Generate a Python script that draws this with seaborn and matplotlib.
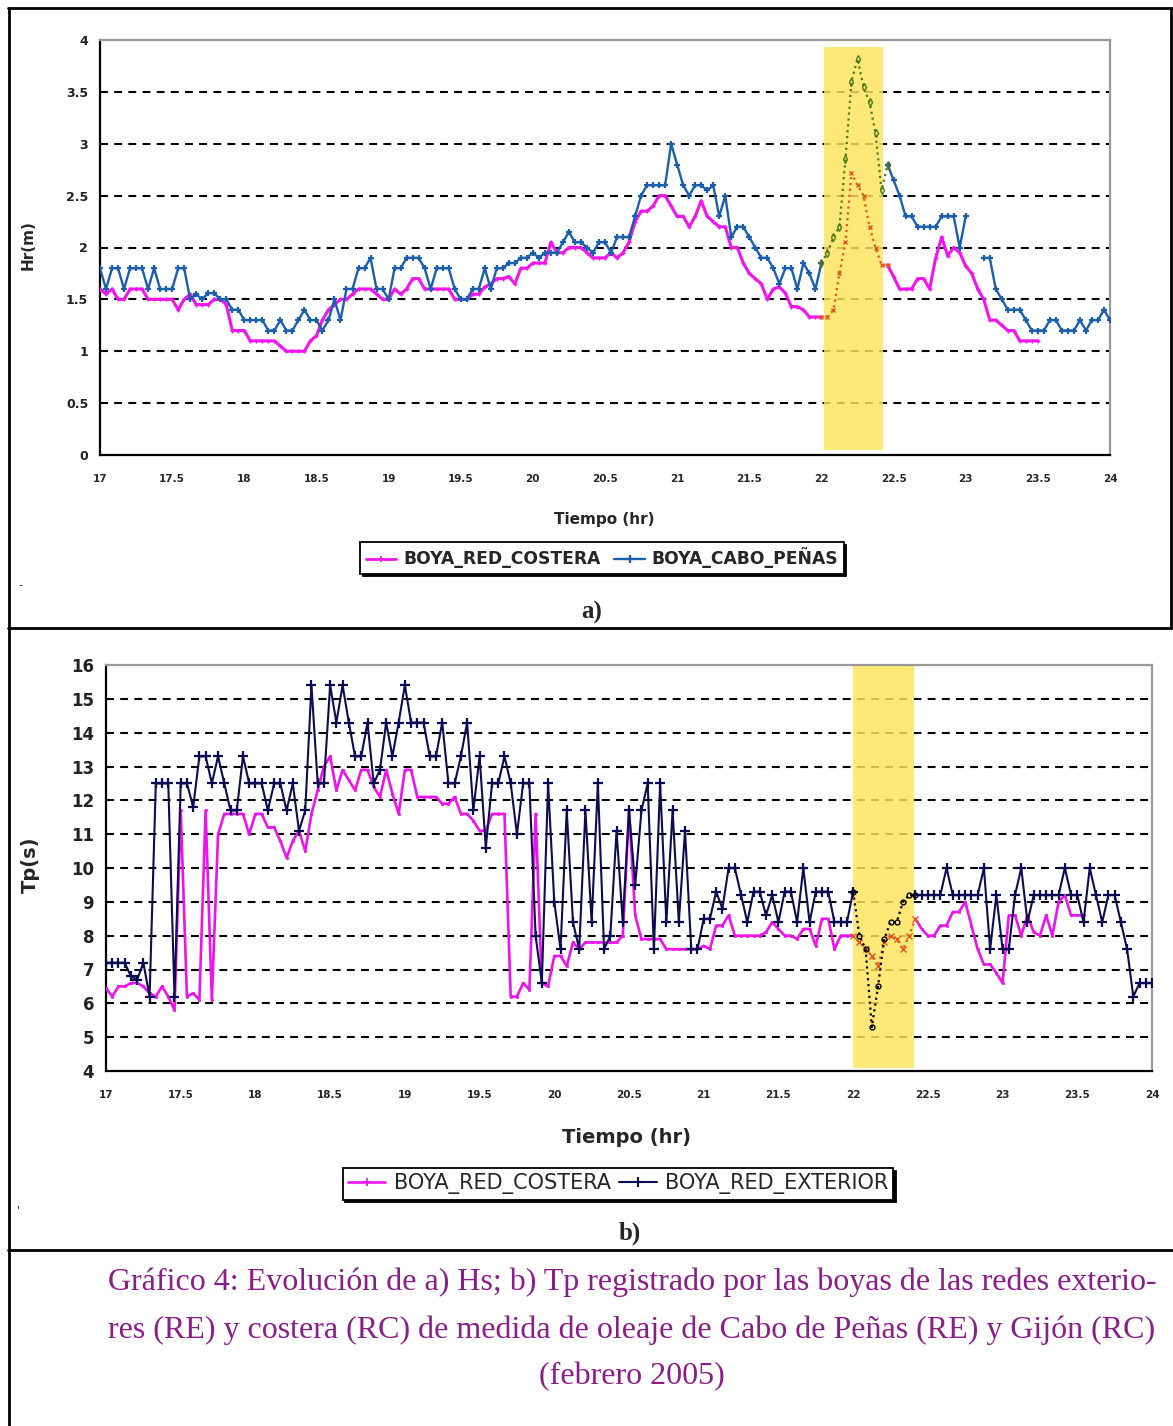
import numpy as np
import pandas as pd
import matplotlib
matplotlib.use("Agg")
import matplotlib.pyplot as plt
import seaborn as sns
from matplotlib.lines import Line2D

nan = np.nan

# ---------------- DATA ----------------
# hourly samples from day 17 to day 24 (169 values)
hours = 17 + np.arange(169) / 24.0

hs_ticks = [0, 0.5, 1, 1.5, 2, 2.5, 3, 3.5, 4]
hs_tick_labels = ["0", "0.5", "1", "1.5", "2", "2.5", "3", "3.5", "4"]
tp_ticks = [4, 5, 6, 7, 8, 9, 10, 11, 12, 13, 14, 15, 16]
tp_tick_labels = [str(t) for t in tp_ticks]
x_ticks = [17, 17.5, 18, 18.5, 19, 19.5, 20, 20.5, 21, 21.5, 22, 22.5, 23, 23.5, 24]
x_tick_labels = ["17", "17.5", "18", "18.5", "19", "19.5", "20", "20.5", "21",
                 "21.5", "22", "22.5", "23", "23.5", "24"]

# a) Hs (m)
hs_costera = [
    1.6, 1.55, 1.6, 1.5, 1.5, 1.6, 1.6, 1.6, 1.5, 1.5, 1.5, 1.5, 1.5, 1.4, 1.5, 1.55, 1.45, 1.45, 1.45, 1.5, 1.5, 1.45, 1.2, 1.2,
    1.2, 1.1, 1.1, 1.1, 1.1, 1.1, 1.05, 1.0, 1.0, 1.0, 1.0, 1.1, 1.15, 1.3, 1.4, 1.45, 1.5, 1.5, 1.55, 1.6, 1.6, 1.6, 1.55, 1.5,
    1.5, 1.6, 1.55, 1.6, 1.7, 1.7, 1.6, 1.6, 1.6, 1.6, 1.6, 1.5, 1.5, 1.5, 1.55, 1.55, 1.62, 1.65, 1.7, 1.7, 1.72, 1.65, 1.8, 1.8,
    1.85, 1.85, 1.85, 2.05, 1.95, 1.95, 2.0, 2.0, 2.0, 1.95, 1.9, 1.9, 1.9, 1.95, 1.9, 1.95, 2.05, 2.25, 2.35, 2.35, 2.4, 2.5, 2.5, 2.4,
    2.3, 2.3, 2.2, 2.3, 2.45, 2.3, 2.25, 2.2, 2.2, 2.0, 2.0, 1.85, 1.75, 1.7, 1.65, 1.5, 1.6, 1.62, 1.56, 1.43, 1.43, 1.4, 1.33, 1.33,
    1.33, 1.33, 1.4, 1.75, 2.05, 2.72, 2.6, 2.5, 2.2, 2.0, 1.83, 1.83, 1.72, 1.6, 1.6, 1.6, 1.7, 1.7, 1.6, 1.9, 2.1, 1.92, 2.0, 1.95,
    1.82, 1.75, 1.6, 1.5, 1.3, 1.3, 1.25, 1.2, 1.2, 1.1, 1.1, 1.1, 1.1,
    nan, nan, nan, nan, nan, nan, nan, nan, nan, nan, nan, nan]
hs_cabo_penas = [
    1.8, 1.6, 1.8, 1.8, 1.6, 1.8, 1.8, 1.8, 1.6, 1.8, 1.6, 1.6, 1.6, 1.8, 1.8, 1.5, 1.55, 1.5, 1.56, 1.56, 1.5, 1.5, 1.4, 1.4,
    1.3, 1.3, 1.3, 1.3, 1.2, 1.2, 1.3, 1.2, 1.2, 1.3, 1.4, 1.3, 1.3, 1.2, 1.3, 1.5, 1.3, 1.6, 1.6, 1.8, 1.8, 1.9, 1.6, 1.6,
    1.5, 1.8, 1.8, 1.9, 1.9, 1.9, 1.8, 1.6, 1.8, 1.8, 1.8, 1.6, 1.5, 1.5, 1.6, 1.6, 1.8, 1.6, 1.8, 1.8, 1.85, 1.85, 1.9, 1.9,
    1.95, 1.9, 1.95, 1.95, 1.95, 2.05, 2.15, 2.05, 2.05, 2.0, 1.95, 2.05, 2.05, 1.95, 2.1, 2.1, 2.1, 2.3, 2.5, 2.6, 2.6, 2.6, 2.6, 3.0,
    2.8, 2.6, 2.5, 2.6, 2.6, 2.55, 2.6, 2.3, 2.5, 2.1, 2.2, 2.2, 2.1, 2.0, 1.9, 1.9, 1.8, 1.65, 1.8, 1.8, 1.6, 1.85, 1.75, 1.6,
    1.85, 1.95, 2.1, 2.2, 2.85, 3.6, 3.82, 3.55, 3.4, 3.1, 2.55, 2.8, 2.65, 2.5, 2.3, 2.3, 2.2, 2.2, 2.2, 2.2, 2.3, 2.3, 2.3, 2.0,
    2.3, nan, nan, 1.9, 1.9, 1.6, 1.5, 1.4, 1.4, 1.4, 1.3, 1.2, 1.2, 1.2, 1.3, 1.3, 1.2, 1.2, 1.2, 1.3, 1.2, 1.3, 1.3, 1.4, 1.3]

# b) Tp (s)
tp_costera = [
    6.45, 6.2, 6.5, 6.5, 6.6, 6.6, 6.5, 6.3, 6.2, 6.5, 6.2, 5.8, 11.7, 6.2, 6.3, 6.1, 11.7, 6.1, 11.0, 11.6, 11.6, 11.6, 11.6, 11.0,
    11.6, 11.6, 11.2, 11.2, 10.8, 10.3, 10.8, 11.1, 10.5, 11.6, 12.3, 13.0, 13.3, 12.3, 12.9, 12.6, 12.3, 12.9, 12.9, 12.4, 12.1, 12.9, 12.2, 11.6,
    12.9, 12.9, 12.1, 12.1, 12.1, 12.1, 11.9, 11.9, 12.1, 11.6, 11.6, 11.4, 11.1, 11.1, 11.6, 11.6, 11.6, 6.2, 6.2, 6.6, 6.4, 11.6, 6.6, 6.5,
    7.4, 7.4, 7.1, 7.8, 7.6, 7.8, 7.8, 7.8, 7.8, 7.8, 7.8, 8.0, 11.7, 8.6, 7.9, 7.9, 7.9, 7.9, 7.6, 7.6, 7.6, 7.6, 7.6, 7.6,
    7.7, 7.6, 8.3, 8.3, 8.6, 8.0, 8.0, 8.0, 8.0, 8.0, 8.1, 8.4, 8.2, 8.0, 8.0, 7.9, 8.2, 8.2, 7.7, 8.5, 8.5, 7.6, 8.0, 8.0,
    8.0, 7.8, 7.6, 7.4, 7.1, 7.8, 8.0, 7.9, 7.6, 8.0, 8.5, 8.2, 8.0, 8.0, 8.3, 8.3, 8.7, 8.7, 9.0, 8.3, 7.6, 7.15, 7.15, 6.9,
    6.6, 8.6, 8.6, 8.0, 8.6, 8.1, 8.0, 8.6, 8.0, 9.0, 9.2, 8.6, 8.6, 8.6,
    nan, nan, nan, nan, nan, nan, nan, nan, nan, nan, nan]
tp_exterior = [
    7.2, 7.2, 7.2, 7.2, 6.8, 6.7, 7.2, 6.2, 12.5, 12.5, 12.5, 6.2, 12.5, 12.5, 11.8, 13.3, 13.3, 12.5, 13.3, 12.5, 11.7, 11.7, 13.3, 12.5,
    12.5, 12.5, 11.7, 12.5, 12.5, 11.7, 12.5, 11.1, 11.7, 15.4, 12.5, 12.5, 15.4, 14.3, 15.4, 14.3, 13.3, 13.3, 14.3, 12.5, 12.9, 14.3, 13.3, 14.3,
    15.4, 14.3, 14.3, 14.3, 13.3, 13.3, 14.3, 12.5, 12.5, 13.3, 14.3, 11.7, 13.3, 10.6, 12.5, 12.5, 13.3, 12.5, 11.0, 12.5, 12.5, 8.0, 6.6, 12.5,
    9.0, 7.6, 11.7, 8.4, 7.6, 11.7, 8.4, 12.5, 7.6, 8.0, 11.1, 8.4, 11.7, 9.5, 11.7, 12.5, 7.6, 12.5, 8.4, 11.7, 8.4, 11.1, 7.6, 7.6,
    8.5, 8.5, 9.3, 8.8, 10.0, 10.0, 9.2, 8.4, 9.3, 9.3, 8.6, 9.2, 8.4, 9.3, 9.3, 8.4, 10.0, 8.4, 9.3, 9.3, 9.3, 8.4, 8.4, 8.4,
    9.3, 8.0, 7.6, 5.3, 6.5, 7.9, 8.4, 8.4, 9.0, 9.2, 9.2, 9.2, 9.2, 9.2, 9.2, 10.0, 9.2, 9.2, 9.2, 9.2, 9.2, 10.0, 7.6, 9.2,
    7.6, 7.6, 9.2, 10.0, 8.4, 9.2, 9.2, 9.2, 9.2, 9.2, 10.0, 9.2, 9.2, 8.4, 10.0, 9.2, 8.4, 9.2, 9.2, 8.4, 7.6, 6.2, 6.6, 6.6, 6.6]

# highlighted storm window (index range and x extent)
band_a = (120, 131)
band_b = (120, 130)
span_a = (22.02, 22.43)
span_b = (22.0, 22.41)

caption = ["Gráfico 4: Evolución de a) Hs; b) Tp registrado por las boyas de las redes exterio-",
           "res (RE) y costera (RC) de medida de oleaje de Cabo de Peñas (RE) y Gijón (RC)",
           "(febrero 2005)"]

# ---------------- STYLE ----------------
sns.set_theme(style="white")
plt.rcParams["font.family"] = ["DejaVu Sans"]

W, H = 1173, 1426
fig = plt.figure(figsize=(W / 100, H / 100), dpi=100)
fig.patch.set_facecolor("white")


def fx(px):
    return px / W


def fy(py):
    return 1 - py / H


def segments(y):
    y = np.asarray(y, float)
    ok = ~np.isnan(y)
    i, n = 0, len(y)
    while i < n:
        if ok[i]:
            j = i
            while j < n and ok[j]:
                j += 1
            yield i, j
            i = j
        else:
            i += 1


def draw(ax, x, y, **kw):
    x = np.asarray(x, float)
    y = np.asarray(y, float)
    for i, j in segments(y):
        sns.lineplot(x=x[i:j], y=y[i:j], ax=ax, estimator=None, sort=False,
                     legend=False, **kw)


def split_band(y, band):
    y = np.asarray(y, float)
    main = y.copy()
    main[band[0] + 1:band[1]] = np.nan
    hl_x = hours[band[0]:band[1] + 1]
    hl_y = y[band[0]:band[1] + 1]
    return main, hl_x, hl_y


def style_axes(ax, yticks, ylabels, ylim, grid_vals, ytick_fs):
    ax.set_xlim(17, 24)
    ax.set_ylim(*ylim)
    ax.set_xticks(x_ticks)
    ax.set_xticklabels(x_tick_labels, fontsize=7.5, fontweight="bold")
    ax.set_yticks(yticks)
    ax.set_yticklabels(ylabels, fontsize=ytick_fs, fontweight="bold", color="#222222")
    ax.tick_params(axis="both", direction="inout", length=9, width=1.5, color="black")
    ax.tick_params(axis="x", pad=9)
    ax.tick_params(axis="y", pad=4)
    for s in ("left", "bottom"):
        ax.spines[s].set_color("black")
        ax.spines[s].set_linewidth(1.6)
    for s in ("top", "right"):
        ax.spines[s].set_color("#9a9a9a")
        ax.spines[s].set_linewidth(1.6)
    for g in grid_vals:
        ax.axhline(g, color="black", lw=1.5, ls=(0, (3.8, 3.0)), zorder=1)
    ax.set_facecolor("white")


# ---------------- a) Hs ----------------
ax1 = fig.add_axes([fx(100), fy(455), fx(1110) - fx(100), fy(40) - fy(455)])
style_axes(ax1, hs_ticks, hs_tick_labels, (0, 4), hs_ticks[1:-1], 9)
ax1.axvspan(*span_a, ymin=0.012, ymax=0.983, color="#FDE35A", alpha=0.82, lw=0, zorder=1.5)

c_mag = "#F214EC"
c_blue = "#1A5FAE"
m_main, mhx, mhy = split_band(hs_costera, band_a)
b_main, bhx, bhy = split_band(hs_cabo_penas, band_a)
draw(ax1, hours, m_main, color=c_mag, lw=2.2, marker="+", markersize=3.5,
     markeredgewidth=1.0, markeredgecolor=c_mag, zorder=3)
draw(ax1, hours, b_main, color=c_blue, lw=1.7, marker="+", markersize=5,
     markeredgewidth=1.6, markeredgecolor=c_blue, zorder=4)
draw(ax1, mhx, mhy, color="#E5561F", lw=1.6, ls=":", marker="x", markersize=3,
     markeredgewidth=1, markeredgecolor="#E5561F", zorder=3)
draw(ax1, bhx, bhy, color="#4E7A1C", lw=1.6, ls=":", marker="d", markersize=4,
     markeredgewidth=1, markeredgecolor="#4E7A1C", markerfacecolor="none", zorder=4)

ax1.set_xlabel("Tiempo (hr)", fontsize=11, fontweight="bold")
ax1.xaxis.set_label_coords(0.499, -0.137)
ax1.set_ylabel("Hr(m)", fontsize=11, fontweight="bold")
ax1.yaxis.set_label_coords(-0.064, 0.506)

h1 = [Line2D([], [], color=c_mag, lw=2, marker="+", ms=5, mew=1.2),
      Line2D([], [], color=c_blue, lw=1.7, marker="+", ms=6, mew=1.6)]
leg1 = fig.legend(h1, ["BOYA_RED_COSTERA", "BOYA_CABO_PEÑAS"], loc="center",
                  bbox_to_anchor=(fx(602), fy(558)), ncol=2, frameon=True,
                  fancybox=False, edgecolor="black", fontsize=12.3,
                  handlelength=1.8, handletextpad=0.4, columnspacing=0.8,
                  borderpad=0.3, shadow={"color": "black", "alpha": 1})
leg1.get_frame().set_linewidth(1.3)
for t in leg1.get_texts():
    t.set_fontweight("bold")

# ---------------- b) Tp ----------------
ax2 = fig.add_axes([fx(106), fy(1071), fx(1152) - fx(106), fy(665) - fy(1071)])
style_axes(ax2, tp_ticks, tp_tick_labels, (4, 16), tp_ticks[1:-1], 12)
ax2.axvspan(*span_b, ymin=0.008, ymax=1.0, color="#FDE35A", alpha=0.82, lw=0, zorder=1.5)

c_navy = "#0C0C52"
tm_main, tmhx, tmhy = split_band(tp_costera, band_b)
tn_main, tnhx, tnhy = split_band(tp_exterior, band_b)
draw(ax2, hours, tm_main, color="#EE12EE", lw=1.9, marker="s", markersize=2,
     markeredgewidth=0.5, markeredgecolor="#EE12EE", zorder=3)
draw(ax2, hours, tn_main, color=c_navy, lw=1.5, marker="+", markersize=6.5,
     markeredgewidth=1.6, markeredgecolor=c_navy, zorder=4)
draw(ax2, tmhx, tmhy, color="#E5561F", lw=1.6, ls=":", marker="x", markersize=4,
     markeredgewidth=1, markeredgecolor="#E5561F", zorder=3)
draw(ax2, tnhx, tnhy, color="black", lw=1.6, ls=":", marker="o", markersize=3.5,
     markeredgewidth=1, markeredgecolor="black", markerfacecolor="none", zorder=4)

ax2.set_xlabel("Tiempo (hr)", fontsize=14, fontweight="bold")
ax2.xaxis.set_label_coords(0.498, -0.140)
ax2.set_ylabel("Tp(s)", fontsize=14, fontweight="bold")
ax2.yaxis.set_label_coords(-0.063, 0.507)

h2 = [Line2D([], [], color="#EE12EE", lw=1.9, marker="+", ms=6, mew=1.2),
      Line2D([], [], color=c_navy, lw=1.5, marker="+", ms=7, mew=1.5)]
leg2 = fig.legend(h2, ["BOYA_RED_COSTERA", "BOYA_RED_EXTERIOR"], loc="center",
                  bbox_to_anchor=(fx(618), fy(1184)), ncol=2, frameon=True,
                  fancybox=False, edgecolor="black", fontsize=15,
                  handlelength=1.8, handletextpad=0.4, columnspacing=0.4,
                  borderpad=0.25, shadow={"color": "black", "alpha": 1})
leg2.get_frame().set_linewidth(1.3)

# ---------------- frame lines & captions ----------------
def fline(x0, y0, x1, y1, lw=2):
    fig.add_artist(Line2D([fx(x0), fx(x1)], [fy(y0), fy(y1)], color="black", lw=lw))


fline(9, 8, 9, 1426)
fline(8, 8, 1172, 8)
fline(1171, 8, 1171, 628)
fline(8, 628, 1173, 628)
fline(8, 1250, 1173, 1250)

fig.text(fx(20), fy(585), "-", fontsize=8, ha="center", va="center")
fig.text(fx(18), fy(1210), "'", fontsize=8, ha="center", va="center")

fig.text(fx(592), fy(612), "a)", fontsize=18, fontweight="bold",
         family="Liberation Serif", ha="center", va="center")
fig.text(fx(630), fy(1233), "b)", fontsize=18, fontweight="bold",
         family="Liberation Serif", ha="center", va="center")

cap_col = "#8B1C8B"
fig.text(fx(108), fy(1282), caption[0], fontsize=23, color=cap_col,
         family="Liberation Serif", ha="left", va="center")
fig.text(fx(108), fy(1330), caption[1], fontsize=23, color=cap_col,
         family="Liberation Serif", ha="left", va="center")
fig.text(fx(632), fy(1377), caption[2], fontsize=23, color=cap_col,
         family="Liberation Serif", ha="center", va="center")

fig.savefig("out.png", dpi=100, facecolor="white")
